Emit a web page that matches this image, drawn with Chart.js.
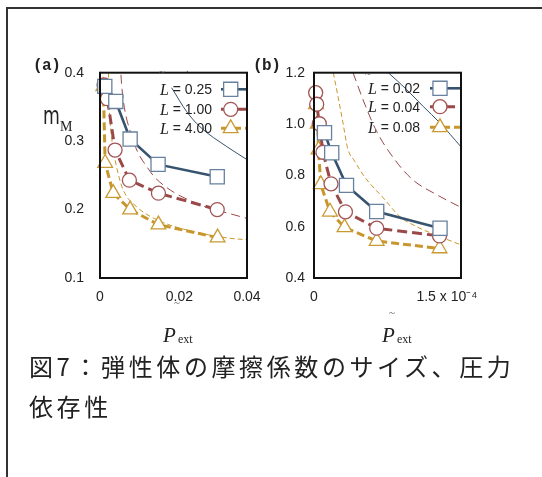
<!DOCTYPE html>
<html>
<head>
<meta charset="utf-8">
<script src="https://cdn.jsdelivr.net/npm/chart.js@4.4.1/dist/chart.umd.min.js"></script>
<style>
  body { margin: 0; background: #fff; }
  #page { position: relative; width: 542px; height: 477px; overflow: hidden; background: #fff; }
  canvas { position: absolute; left: 0; top: 0; }
  .t { position: absolute; white-space: nowrap; line-height: 1; color: #222; }
  .serif { font-family: 'Liberation Serif', 'DejaVu Serif', serif; }
  .mono { font-family: 'Liberation Mono', 'DejaVu Sans Mono', monospace; font-weight: bold; font-size: 16px; letter-spacing: -0.5px; }
  #caption { position: absolute; left: 29px; top: 346px; font-family: 'Noto Sans CJK JP', sans-serif;
             font-size: 24px; line-height: 40px; letter-spacing: 3.6px; color: #222; }
</style>
</head>
<body>
<div id="page">
  <div style="position:absolute;left:6px;top:7px;width:540px;border-top:2px solid #333;"></div>
  <div style="position:absolute;left:6px;top:7px;height:480px;border-left:2px solid #333;"></div>

  <canvas id="chartA" width="542" height="477"></canvas>
  <canvas id="chartB" width="542" height="477"></canvas>

  <div class="t mono" style="left:33px;top:58px;">(a)</div>
  <div class="t mono" style="left:253px;top:58px;">(b)</div>

  <div class="t" style="left:43px;top:104px;font-family:'DejaVu Sans',sans-serif;font-size:24px;transform:scaleX(0.72);transform-origin:left top;">m</div>
  <div class="t serif" style="left:60px;top:120px;font-size:14px;">M</div>

  <div class="t serif" style="left:159px;top:66px;font-size:11px;color:#555;">~</div>
  <div class="t serif" style="left:186px;top:63px;font-size:11px;color:#555;">.</div>
  <div class="t serif" style="left:365px;top:68px;font-size:11px;color:#555;">~</div>
  <div class="t serif" style="left:392px;top:65px;font-size:11px;color:#555;">.</div>

  <div class="t serif" style="left:174px;top:297px;font-size:11px;color:#555;">~</div>
  <div class="t serif" style="left:163px;top:325px;font-size:21px;font-style:italic;">P</div>
  <div class="t serif" style="left:178px;top:333px;font-size:12px;">ext</div>

  <div class="t serif" style="left:389px;top:307px;font-size:11px;color:#555;">~</div>
  <div class="t serif" style="left:382px;top:325px;font-size:21px;font-style:italic;">P</div>
  <div class="t serif" style="left:397px;top:333px;font-size:12px;">ext</div>

  <div id="caption">図7：弾性体の摩擦係数のサイズ、圧力<br>依存性</div>
</div>

<script>
// ---- panel (a) : measured points ----
const xA_L025 = [0.0013, 0.0043, 0.0082, 0.0158, 0.0319];
const yA_L025 = [0.380, 0.358, 0.303, 0.266, 0.248];
const xA_L100 = [0.0011, 0.0020, 0.0041, 0.0080, 0.0159, 0.0319];
const yA_L100 = [0.382, 0.362, 0.287, 0.243, 0.224, 0.200];
const xA_L400 = [0.0009, 0.0014, 0.0036, 0.0082, 0.0159, 0.0320];
const yA_L400 = [0.380, 0.268, 0.224, 0.200, 0.178, 0.159];
// panel (a) : thin theory curves
const xA_fit025 = [0.0195, 0.0236, 0.0272, 0.0345, 0.0400];
const yA_fit025 = [0.378, 0.343, 0.321, 0.292, 0.273];
const xA_fit100 = [0.0057, 0.0060, 0.0086, 0.0136, 0.0177, 0.0272, 0.0367, 0.0400];
const yA_fit100 = [0.397, 0.375, 0.308, 0.256, 0.234, 0.207, 0.192, 0.187];
const xA_fit400 = [0.0023, 0.0024, 0.0030, 0.0045, 0.0063, 0.0100, 0.0155, 0.0245, 0.0354, 0.0400];
const yA_fit400 = [0.400, 0.368, 0.314, 0.263, 0.229, 0.204, 0.185, 0.169, 0.158, 0.156];
const labelsA = ['0.25', '1.00', '4.00'];
const ticksXA = [0, 0.02, 0.04];
const ticksYA = [0.1, 0.2, 0.3, 0.4];

// ---- panel (b) : measured points ----
const xB_L002 = [1.32e-5, 2.23e-5, 4.09e-5, 7.89e-5, 1.586e-4];
const yB_L002 = [0.966, 0.888, 0.761, 0.659, 0.594];
const xB_L004 = [2.1e-6, 3.4e-6, 6.7e-6, 1.13e-5, 2.14e-5, 3.96e-5, 7.89e-5, 1.58e-4];
const yB_L004 = [1.122, 1.077, 1.001, 0.890, 0.767, 0.658, 0.594, 0.564];
const xB_L008 = [2.5e-6, 4.7e-6, 5.7e-6, 8.5e-6, 2.01e-5, 3.84e-5, 7.89e-5, 1.58e-4];
const yB_L008 = [1.077, 1.001, 0.900, 0.765, 0.658, 0.597, 0.544, 0.515];
// panel (b) : thin theory curves
const xB_fit002 = [9.35e-5, 1.167e-4, 1.376e-4, 1.586e-4, 1.85e-4];
const yB_fit002 = [1.2, 1.134, 1.068, 1.004, 0.911];
const xB_fit004 = [4.91e-5, 6.42e-5, 7.89e-5, 1.019e-4, 1.246e-4, 1.548e-4, 1.85e-4];
const yB_fit004 = [1.2, 1.075, 0.971, 0.860, 0.782, 0.724, 0.675];
const xB_fit008 = [2.43e-5, 3.06e-5, 3.69e-5, 4.22e-5, 5.16e-5, 6.42e-5, 8.72e-5, 1.082e-4, 1.292e-4, 1.586e-4, 1.85e-4];
const yB_fit008 = [1.2, 1.101, 0.997, 0.907, 0.853, 0.792, 0.712, 0.639, 0.600, 0.561, 0.529];
const labelsB = ['0.02', '0.04', '0.08'];
const ticksXB = [0, 1.5e-4];
const ticksYB = [0.4, 0.6, 0.8, 1.0, 1.2];

const BLUE = '#36536f', BLUE_PT = '#67819e';
const RED = '#9a4848', RED_PT = '#a25454';
const GOLD = '#c9962e', GOLD_PT = '#c99a33';
const tickFont = { family: "'Liberation Sans', Arial, sans-serif", size: 14 };

function pts(xs, ys) {
  return xs.map((x, i) => ({ x: x, y: ys[i] }));
}

function mainSet(label, xs, ys, color, ptColor, style, radius, dash) {
  return {
    label: label,
    data: pts(xs, ys),
    showLine: true,
    clip: false,
    borderColor: color,
    borderWidth: dash ? 3 : 2.6,
    borderDash: dash || [],
    pointStyle: style,
    pointRadius: radius,
    pointBackgroundColor: '#fff',
    pointBorderColor: ptColor,
    pointBorderWidth: 1.3
  };
}

function fitSet(xs, ys, color, dash) {
  return {
    data: pts(xs, ys),
    showLine: true,
    borderColor: color,
    borderWidth: 1,
    borderDash: dash,
    pointRadius: 0,
    cubicInterpolationMode: 'monotone'
  };
}

// box around the plot + legend inside the plot
function panelPlugin(legendX, textRight, rows, lineFrom, lineTo) {
  return {
    id: 'panel',
    afterDatasetsDraw(chart) {
      const ctx = chart.ctx;
      ctx.save();
      chart.data.datasets.slice(0, 3).forEach((ds, i) => {
        const y = rows[i];
        ctx.strokeStyle = ds.borderColor;
        ctx.lineWidth = ds.borderWidth;
        ctx.setLineDash(ds.borderDash);
        ctx.beginPath();
        ctx.moveTo(lineFrom, y);
        ctx.lineTo(lineTo, y);
        ctx.stroke();
        ctx.setLineDash([]);
        ctx.fillStyle = '#fff';
        ctx.strokeStyle = ds.pointBorderColor;
        ctx.lineWidth = ds.pointBorderWidth;
        Chart.helpers.drawPoint(ctx, { pointStyle: ds.pointStyle, radius: ds.pointRadius, borderWidth: ds.pointBorderWidth, rotation: 0 }, legendX, y);

        const rest = ' = ' + ds.label;
        ctx.font = "14px 'Liberation Sans', Arial, sans-serif";
        const wRest = ctx.measureText(rest).width;
        ctx.fillStyle = '#222';
        ctx.textBaseline = 'middle';
        ctx.textAlign = 'left';
        ctx.fillText(rest, textRight - wRest, y + 1);
        ctx.font = "italic 16px 'Liberation Serif', serif";
        const wL = ctx.measureText('L').width;
        ctx.fillText('L', textRight - wRest - wL, y + 1);
      });
      ctx.restore();
    },
    afterDraw(chart) {
      const a = chart.chartArea;
      const ctx = chart.ctx;
      ctx.save();
      ctx.strokeStyle = '#111';
      ctx.lineWidth = 2;
      ctx.strokeRect(a.left, a.top, a.right - a.left, a.bottom - a.top);
      ctx.restore();
    }
  };
}

function makePanel(id, datasets, xMin, xMax, xTicks, xFmt, yMin, yMax, yTicks, yPad, left, right, legend) {
  return new Chart(document.getElementById(id), {
    type: 'scatter',
    data: { datasets: datasets },
    options: {
      responsive: false,
      animation: false,
      layout: { padding: { left: 0, top: 72.7, right: 542 - right, bottom: 0 } },
      plugins: { legend: { display: false }, tooltip: { enabled: false } },
      scales: {
        x: {
          type: 'linear', min: xMin, max: xMax,
          grid: { display: false, drawTicks: false },
          border: { display: false },
          afterBuildTicks: s => { s.ticks = xTicks.map(v => ({ value: v })); },
          afterFit: s => { s.height = 477 - 278; },
          ticks: { font: tickFont, color: '#222', padding: 11, maxRotation: 0, callback: xFmt }
        },
        y: {
          type: 'linear', min: yMin, max: yMax,
          grid: { display: false, drawTicks: false },
          border: { display: false },
          afterBuildTicks: s => { s.ticks = yTicks.map(v => ({ value: v })); },
          afterFit: s => { s.width = left; },
          ticks: { font: tickFont, color: '#222', padding: yPad }
        }
      }
    },
    plugins: [legend]
  });
}

makePanel('chartA', [
    mainSet(labelsA[0], xA_L025, yA_L025, BLUE, BLUE_PT, 'rect', 10, null),
    mainSet(labelsA[1], xA_L100, yA_L100, RED, RED_PT, 'circle', 7, [10, 5]),
    mainSet(labelsA[2], xA_L400, yA_L400, GOLD, GOLD_PT, 'triangle', 8.5, [8, 4]),
    fitSet(xA_fit025, yA_fit025, BLUE, []),
    fitSet(xA_fit100, yA_fit100, RED, [9, 5]),
    fitSet(xA_fit400, yA_fit400, GOLD, [5, 3])
  ], 0, 0.04, ticksXA, v => (v === 0.02 ? '   0.02' : String(v)),
  0.1, 0.4, ticksYA, 16, 100, 247,
  panelPlugin(230.7, 212, [89.3, 109.3, 128.3], 221, 247));

makePanel('chartB', [
    mainSet(labelsB[0], xB_L002, yB_L002, BLUE, BLUE_PT, 'rect', 10, null),
    mainSet(labelsB[1], xB_L004, yB_L004, RED, RED_PT, 'circle', 7, [10, 5]),
    mainSet(labelsB[2], xB_L008, yB_L008, GOLD, GOLD_PT, 'triangle', 8.5, [8, 4]),
    fitSet(xB_fit002, yB_fit002, BLUE, []),
    fitSet(xB_fit004, yB_fit004, RED, [9, 5]),
    fitSet(xB_fit008, yB_fit008, GOLD, [5, 3])
  ], 0, 1.85e-4, ticksXB, v => (v === 0 ? '0' : '       1.5 x 10\u207B\u2074'),
  0.4, 1.2, ticksYB, 9, 314, 461,
  panelPlugin(440, 420, [88.3, 106.7, 127.3], 430, 462));
</script>
</body>
</html>
